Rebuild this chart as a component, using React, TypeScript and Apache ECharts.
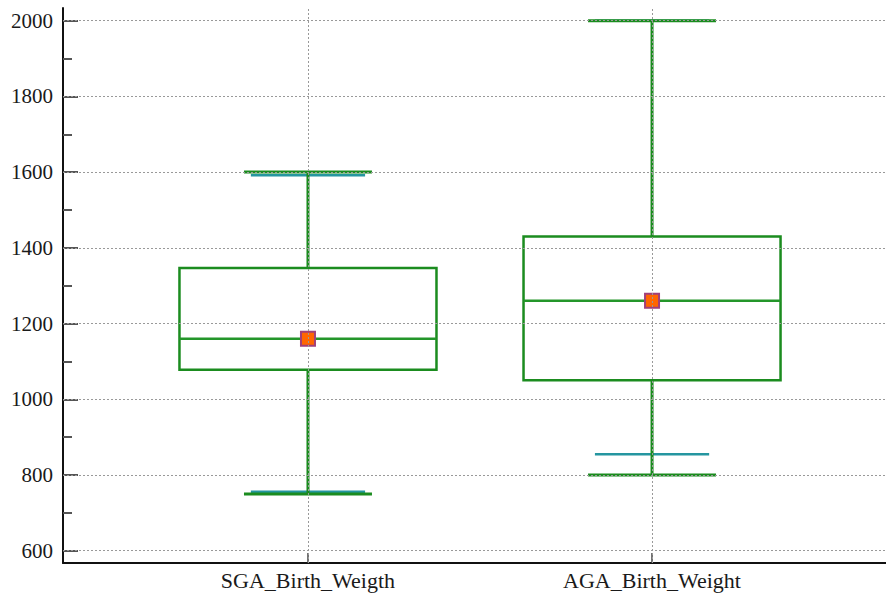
import React, { useEffect, useRef } from "react";
import * as echarts from "echarts";

const categories = ["SGA_Birth_Weigth", "AGA_Birth_Weight"];
const positions = [1, 2];
const whiskerLow = [750, 800];
const q1 = [1078, 1050];
const median = [1160, 1260];
const q3 = [1347, 1430];
const whiskerHigh = [1600, 2000];
const means = [1160, 1260];
const innerLow = [756, 855];
const innerHigh = [1592, 2000];
const yMajorTicks = [600, 800, 1000, 1200, 1400, 1600, 1800, 2000];
const yMinorTicks = [700, 900, 1100, 1300, 1500, 1700, 1900];

const GREEN = "#1b8c1f";
const TEAL = "#2596a0";
const SERIF = "'Liberation Serif', 'Times New Roman', serif";

export default function App() {
  const ref = useRef<HTMLDivElement>(null);
  useEffect(() => {
    document.body.style.margin = "0";
    const chart = echarts.init(ref.current!, null, { renderer: "svg" });
    const boxHalf = 0.3735;
    const capHalf = 0.186;
    const innerHalf = 0.166;
    const boxData = positions.map((p, i) => [p, whiskerLow[i], q1[i], median[i], q3[i], whiskerHigh[i], innerLow[i], innerHigh[i]]);
    const renderBox = (params: any, api: any) => {
      const x = api.value(0);
      const pt = (xx: number, yy: number) => api.coord([xx, yy]);
      const line = (a: number[], b: number[], color: string, w: number) => ({
        type: "line",
        shape: { x1: a[0], y1: a[1], x2: b[0], y2: b[1] },
        style: { stroke: color, lineWidth: w },
      });
      const lo = api.value(1), a1 = api.value(2), md = api.value(3), a3 = api.value(4), hi = api.value(5);
      const il = api.value(6), ih = api.value(7);
      const tl = pt(x - boxHalf, a3);
      const br = pt(x + boxHalf, a1);
      return {
        type: "group",
        children: [
          line(pt(x - innerHalf, il), pt(x + innerHalf, il), TEAL, 2.5),
          line(pt(x - innerHalf, ih), pt(x + innerHalf, ih), TEAL, 2.5),
          line(pt(x, a3), pt(x, hi), GREEN, 3),
          line(pt(x, lo), pt(x, a1), GREEN, 3),
          line(pt(x - capHalf, hi), pt(x + capHalf, hi), GREEN, 3),
          line(pt(x - capHalf, lo), pt(x + capHalf, lo), GREEN, 3),
          {
            type: "rect",
            shape: { x: tl[0], y: tl[1], width: br[0] - tl[0], height: br[1] - tl[1] },
            style: { fill: "none", stroke: GREEN, lineWidth: 2.5 },
          },
          line(pt(x - boxHalf, md), pt(x + boxHalf, md), "#24962a", 2.5),
        ],
      };
    };
    const yBase = {
      type: "value",
      min: 567.5,
      max: 2033.5,
      position: "left",
      offset: 0,
      splitLine: { show: false },
    };
    chart.setOption({
      animation: false,
      grid: { left: 63, top: 8, right: 0, bottom: 32 },
      xAxis: {
        type: "value",
        min: 0.288,
        max: 2.68,
        axisLine: { show: true, lineStyle: { color: "#111", width: 2 } },
        axisTick: { show: true, inside: true, length: 10, customValues: positions, lineStyle: { color: "#444", width: 1.5 } },
        axisLabel: {
          customValues: positions,
          formatter: (v: number) => categories[positions.indexOf(Math.round(v))] ?? "",
          fontFamily: SERIF,
          fontSize: 22,
          color: "#1a1a1a",
          margin: 6,
        },
        splitLine: { show: false },
      },
      yAxis: [
        {
          ...yBase,
          axisLine: { show: true, lineStyle: { color: "#111", width: 2 } },
          axisTick: { show: true, inside: true, length: 15, customValues: yMajorTicks, lineStyle: { color: "#555", width: 2 } },
          axisLabel: {
            customValues: yMajorTicks,
            formatter: (v: number) => String(Math.round(v)),
            fontFamily: SERIF,
            fontSize: 21,
            color: "#1a1a1a",
            margin: 10,
          },
        },
        {
          ...yBase,
          axisLine: { show: false },
          axisTick: { show: true, inside: true, length: 9, customValues: yMinorTicks, lineStyle: { color: "#555", width: 2 } },
          axisLabel: { show: false },
        },
      ],
      series: [
        {
          type: "scatter",
          data: [],
          silent: true,
          z: 1,
          markLine: {
            silent: true,
            symbol: "none",
            label: { show: false },
            lineStyle: { type: [2, 2], color: "#999", width: 1 },
            data: [
              ...yMajorTicks.map((v) => ({ yAxis: v })),
              ...positions.map((p) => ({ xAxis: p })),
            ],
          },
        },
        {
          type: "custom",
          z: 2,
          renderItem: renderBox,
          encode: { x: 0, y: [1, 2, 3, 4, 5] },
          data: boxData,
        },
        {
          type: "scatter",
          z: 3,
          symbol: "rect",
          symbolSize: 14,
          itemStyle: { color: "#ff6600", borderColor: "#a0407a", borderWidth: 2, opacity: 1 },
          data: positions.map((p, i) => [p, means[i]]),
        },
      ],
    });
    return () => chart.dispose();
  }, []);
  return <div ref={ref} style={{ width: 886, height: 595 }} />;
}
